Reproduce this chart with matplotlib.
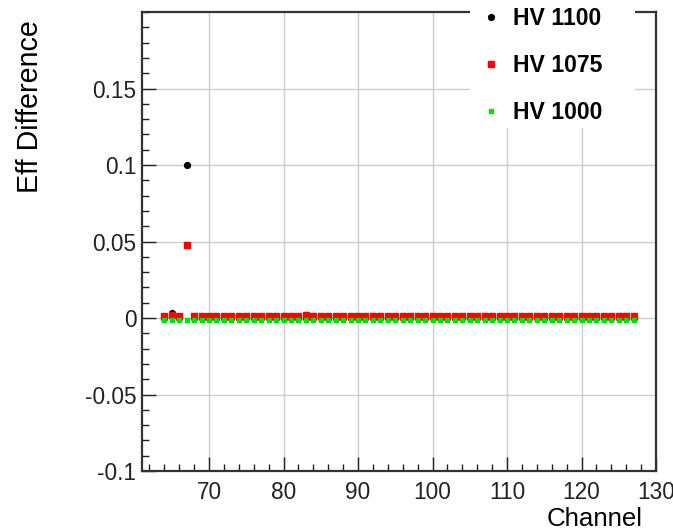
import matplotlib

matplotlib.use("Agg")
import matplotlib.pyplot as plt
from matplotlib.patches import Rectangle
from matplotlib.ticker import MultipleLocator

channels = list(range(64, 128))

# channel 64..127
hv1100 = [0.0, 0.003, 0.0, 0.1, 0.0, 0.0, 0.0, 0.0, 0.0, 0.0, 0.0, 0.0, 0.0, 0.0, 0.0, 0.0,
          0.0, 0.0, 0.0, 0.0, 0.0, 0.0, 0.0, 0.0, 0.0, 0.0, 0.0, 0.0, 0.0, 0.0, 0.0, 0.0,
          0.0, 0.0, 0.0, 0.0, 0.0, 0.0, 0.0, 0.0, 0.0, 0.0, 0.0, 0.0, 0.0, 0.0, 0.0, 0.0,
          0.0, 0.0, 0.0, 0.0, 0.0, 0.0, 0.0, 0.0, 0.0, 0.0, 0.0, 0.0, 0.0, 0.0, 0.0, 0.0]
hv1075 = [0.001, 0.002, 0.001, 0.048, 0.001, 0.001, 0.001, 0.001, 0.001, 0.001, 0.001, 0.001, 0.001, 0.001, 0.001, 0.001,
          0.001, 0.001, 0.001, 0.002, 0.001, 0.001, 0.001, 0.001, 0.001, 0.001, 0.001, 0.001, 0.001, 0.001, 0.001, 0.001,
          0.001, 0.001, 0.001, 0.001, 0.001, 0.001, 0.001, 0.001, 0.001, 0.001, 0.001, 0.001, 0.001, 0.001, 0.001, 0.001,
          0.001, 0.001, 0.001, 0.001, 0.001, 0.001, 0.001, 0.001, 0.001, 0.001, 0.001, 0.001, 0.001, 0.001, 0.001, 0.001]
hv1000 = [-0.001, -0.001, -0.001, -0.001, -0.001, -0.001, -0.001, -0.001, -0.001, -0.001, -0.001, -0.001, -0.001, -0.001, -0.001, -0.001,
          -0.001, -0.001, -0.001, -0.001, -0.001, -0.001, -0.001, -0.001, -0.001, -0.001, -0.001, -0.001, -0.001, -0.001, -0.001, -0.001,
          -0.001, -0.001, -0.001, -0.001, -0.001, -0.001, -0.001, -0.001, -0.001, -0.001, -0.001, -0.001, -0.001, -0.001, -0.001, -0.001,
          -0.001, -0.001, -0.001, -0.001, -0.001, -0.001, -0.001, -0.001, -0.001, -0.001, -0.001, -0.001, -0.001, -0.001, -0.001, -0.001]

plt.rcParams["font.family"] = ["Liberation Sans", "DejaVu Sans"]

fig = plt.figure(figsize=(6.73, 5.31), dpi=100)
ax = fig.add_axes([142 / 673, 1 - 471 / 531, (656 - 142) / 673, (471 - 12) / 531])

ax.plot(channels, hv1100, ls="none", marker="o", ms=4.2, color="black", label="HV 1100")
ax.plot(channels, hv1075, ls="none", marker="s", ms=4.5, color="#ff0000", label="HV 1075")
ax.plot(channels, hv1000, ls="none", marker="s", ms=2.8, color="#00e000", label="HV 1000")

ax.set_xlim(61, 130)
ax.set_ylim(-0.1, 0.2)
ax.xaxis.set_minor_locator(MultipleLocator(2))
ax.yaxis.set_minor_locator(MultipleLocator(0.01))
ax.set_yticks([-0.1, -0.05, 0, 0.05, 0.1, 0.15])
ax.set_yticklabels(["-0.1", "-0.05", "0", "0.05", "0.1", "0.15"])
ax.set_xticks([70, 80, 90, 100, 110, 120, 130])
ax.tick_params(which="both", direction="in", top=False, right=False, labelsize=16.3, colors="#222222")
ax.tick_params(which="major", length=10, width=1)
ax.tick_params(which="minor", length=5, width=1)
ax.tick_params(axis="x", pad=7)
ax.tick_params(axis="y", pad=4)
ax.grid(True, which="major", color="#cccccc", lw=1)
ax.set_axisbelow(True)
for spine in ax.spines.values():
    spine.set_linewidth(1.6)
    spine.set_color("#333333")

ax.set_xlabel("Channel", fontsize=18.6, ha="right")
ax.xaxis.set_label_coords((643 - 142) / (656 - 142), -(526 - 471) / (471 - 12), transform=ax.transAxes)
ax.xaxis.label.set_va("baseline")
ax.set_ylabel("Eff Difference", fontsize=20.6, ha="right")
ax.yaxis.set_label_coords(-(142 - 30) / (656 - 142), (471 - 20) / (471 - 12), transform=ax.transAxes)
ax.yaxis.label.set_va("center")

# white legend pad, as in the ROOT canvas
fig.patches.append(Rectangle((470 / 673, 1 - 128 / 531), (635 - 470) / 673, 128 / 531,
                             transform=fig.transFigure, facecolor="white", edgecolor="none", zorder=2))

leg = fig.legend(loc="upper left", bbox_to_anchor=(473 / 673, 1.0),
                 frameon=False, prop={"weight": "bold", "size": 16.6}, handlelength=1.0,
                 handletextpad=0.45, labelspacing=1.05, borderpad=0.3, borderaxespad=0)
leg.set_zorder(3)

fig.savefig("out.png", dpi=100)
